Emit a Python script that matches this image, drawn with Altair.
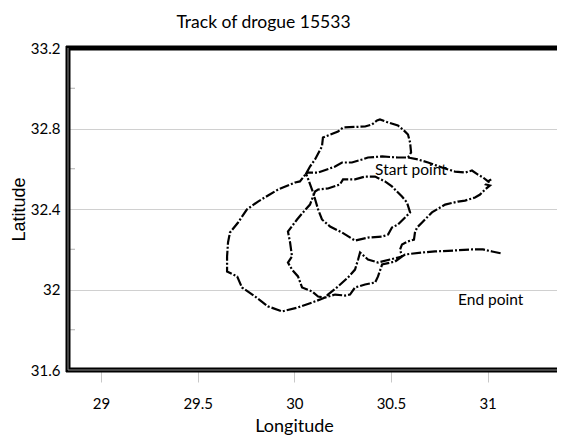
import altair as alt
import pandas as pd

# Track of drogue 15533 (in order of travel)
lon = [
    30.588, 30.640, 30.692, 30.764, 30.831, 30.883, 30.919, 30.950, 30.976, 31.002, 31.018, 30.992, 31.012, 30.987,
    30.961, 30.935, 30.883, 30.847, 30.780, 30.738, 30.712, 30.676, 30.661, 30.635, 30.624, 30.619, 30.588, 30.557, 30.547, 30.557,
    30.521, 30.454, 30.433, 30.418, 30.366, 30.314, 30.288, 30.262, 30.211, 30.159,
    30.092, 30.019, 29.936, 29.864, 29.797, 29.729, 29.704, 29.652, 29.652, 29.657, 29.667, 29.709, 29.755, 29.812, 29.864, 29.916, 30.004, 30.029, 30.061,
    30.081, 30.107, 30.143, 30.148, 30.226, 30.252, 30.366, 30.402, 30.428, 30.443, 30.485, 30.536, 30.562, 30.588, 30.599, 30.604, 30.588,
    30.536, 30.454, 30.381, 30.350, 30.298, 30.247, 30.211, 30.123, 30.071, 30.061,
    30.097, 30.123, 30.143, 30.185, 30.247, 30.314, 30.381, 30.454, 30.485, 30.505, 30.536, 30.573, 30.599,
    30.583, 30.557, 30.531, 30.505, 30.469, 30.418,
    30.366, 30.314, 30.252, 30.236, 30.174, 30.123, 30.107,
    30.081, 30.045, 30.014, 29.967, 29.978, 29.988, 29.967, 29.988, 30.019, 30.040, 30.092, 30.123, 30.159,
    30.174, 30.226, 30.278, 30.314, 30.330, 30.340, 30.381, 30.433, 30.495, 30.557,
    30.573, 30.661, 30.728, 30.831, 30.919, 30.976, 31.023, 31.074,
]
lat = [
    32.656, 32.646, 32.631, 32.606, 32.586, 32.581, 32.591, 32.571, 32.557, 32.537, 32.547, 32.522, 32.517, 32.497,
    32.472, 32.457, 32.442, 32.437, 32.422, 32.398, 32.383, 32.348, 32.333, 32.308, 32.283, 32.248, 32.239, 32.224, 32.199, 32.164,
    32.139, 32.124, 32.065, 32.035, 32.025, 32.010, 31.975, 31.970, 31.975, 31.960,
    31.935, 31.911, 31.891, 31.916, 31.965, 32.010, 32.065, 32.089, 32.164, 32.234, 32.283, 32.333, 32.398, 32.437, 32.467, 32.497, 32.532, 32.537, 32.576,
    32.611, 32.646, 32.711, 32.755, 32.785, 32.805, 32.810, 32.820, 32.840, 32.845, 32.830, 32.815, 32.795, 32.770, 32.730, 32.681, 32.656,
    32.656, 32.661, 32.656, 32.646, 32.631, 32.631, 32.611, 32.581, 32.581, 32.576,
    32.482, 32.398, 32.348, 32.313, 32.283, 32.243, 32.258, 32.263, 32.273, 32.308, 32.323, 32.358, 32.383,
    32.432, 32.462, 32.487, 32.512, 32.537, 32.561,
    32.561, 32.547, 32.547, 32.522, 32.502, 32.497, 32.487,
    32.422, 32.383, 32.348, 32.288, 32.234, 32.164, 32.134, 32.099, 32.065, 32.010, 31.990, 31.965, 31.960,
    31.975, 32.015, 32.060, 32.099, 32.149, 32.184, 32.149, 32.134, 32.149, 32.164,
    32.174, 32.184, 32.189, 32.194, 32.199, 32.199, 32.189, 32.179,
]

label_text = ["Start point", "End point"]
label_lon = [30.418, 30.847]
label_lat = [32.596, 31.950]

x_ticks = [29, 29.5, 30, 30.5, 31]
y_ticks = [31.6, 32, 32.4, 32.8, 33.2]
y_minor = [31.8, 32.2, 32.6, 33.0]

W, H = 489, 322
X_DOMAIN = [28.829, 31.359]
Y_DOMAIN = [31.6, 33.2]

FONT = "Lato, sans-serif"

track = pd.DataFrame({"lon": lon, "lat": lat, "step": list(range(len(lon)))})
labels = pd.DataFrame({"lon": label_lon, "lat": label_lat, "text": label_text})
minor = pd.DataFrame({"lat": y_minor})

x_enc = alt.X(
    "lon:Q",
    scale=alt.Scale(domain=X_DOMAIN, nice=False, zero=False),
    axis=alt.Axis(
        values=x_ticks, title="Longitude", grid=False, domain=False,
        ticks=True, tickColor="#c8c8c8", tickSize=12, labelPadding=14,
        labelFont=FONT, labelFontSize=15, labelColor="#000000",
        titleFont=FONT, titleFontSize=18, titleFontWeight="normal", titleColor="#000000",
        titleX=226, titleY=56, titleAlign="center", titleBaseline="middle",
        format="~g",
    ),
)
y_enc = alt.Y(
    "lat:Q",
    scale=alt.Scale(domain=Y_DOMAIN, nice=False, zero=False),
    axis=alt.Axis(
        values=y_ticks, title="Latitude", grid=True, gridColor="#d0d0d0", gridWidth=1,
        domain=False, ticks=False, tickSize=0, labelPadding=8,
        labelFont=FONT, labelFontSize=15, labelColor="#000000",
        titleFont="Liberation Sans, Arial, sans-serif", titleFontSize=18,
        titleFontWeight="normal", titleColor="#000000",
        titleX=-49, titleY=161, titleAngle=-90, titleAlign="center", titleBaseline="middle",
        format="~g",
    ),
)

line = alt.Chart(track).mark_line(
    color="#000000", strokeWidth=2.2, strokeDash=[10, 2, 2, 2]
).encode(x=x_enc, y=y_enc, order="step:Q")

text = alt.Chart(labels).mark_text(
    font=FONT, fontSize=15.5, color="#000000", align="left", baseline="middle"
).encode(x=x_enc, y=y_enc, text="text:N")

minor_ticks = alt.Chart(minor).mark_rule(color="#b0b0b0", strokeWidth=1).encode(
    y=y_enc, x=alt.value(2), x2=alt.value(7)
)

one = alt.Data(values=[{"a": 1}])
frame_top = alt.Chart(one).mark_rule(color="#000000", strokeWidth=5).encode(
    x=alt.value(-2), x2=alt.value(W + 10), y=alt.value(0)
)
frame_bottom = alt.Chart(one).mark_rule(color="#000000", strokeWidth=5).encode(
    x=alt.value(-2), x2=alt.value(W + 10), y=alt.value(H)
)
frame_left = alt.Chart(one).mark_rule(color="#000000", strokeWidth=5).encode(
    x=alt.value(0), y=alt.value(-2), y2=alt.value(H + 2)
)
inner_bottom = alt.Chart(one).mark_rule(color="#8a8a8a", strokeWidth=1).encode(
    x=alt.value(0), x2=alt.value(W + 10), y=alt.value(H)
)
inner_left = alt.Chart(one).mark_rule(color="#8a8a8a", strokeWidth=1).encode(
    x=alt.value(0), y=alt.value(0), y2=alt.value(H)
)

chart = alt.layer(
    line, text, minor_ticks, frame_top, frame_bottom, frame_left, inner_bottom, inner_left
).properties(
    width=W,
    height=H,
    title=alt.TitleParams(
        "Track of drogue 15533", font=FONT, fontSize=17.5, fontWeight="normal",
        color="#000000", anchor="middle", dx=-49, baseline="middle", offset=1,
    ),
    autosize=alt.AutoSizeParams(type="none"),
    padding={"left": 60, "top": 40, "right": 0, "bottom": 67},
).configure_view(stroke=None).configure(background="#ffffff")

chart.save("out.html", embed_options={"renderer": "svg", "actions": False})
